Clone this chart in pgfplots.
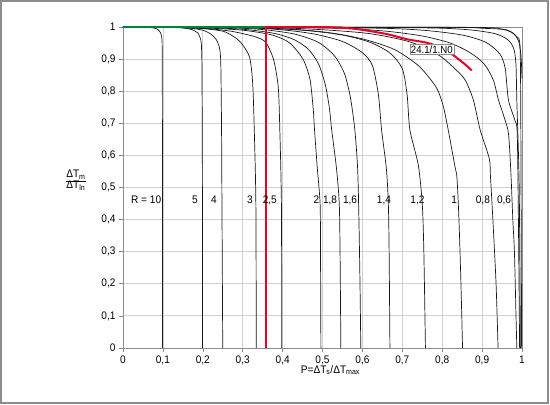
\documentclass[border=0pt]{standalone}
\usepackage{fontspec}
\setmainfont{Liberation Sans}[FakeStretch=0.92]
\usepackage{pgfplots}
\pgfplotsset{compat=1.18}
\definecolor{gridgray}{RGB}{208,208,208}
\definecolor{axisgray}{RGB}{140,140,140}
\definecolor{opred}{RGB}{230,0,40}
\definecolor{opgreen}{RGB}{0,130,60}
\tikzset{fcurve/.style={black!90, line width=0.7bp, smooth, tension=0.45, mark=none}}

\begin{document}
\begin{tikzpicture}
\useasboundingbox (-123bp,-57bp) rectangle (427bp,348bp);
\draw[axisgray, line width=1.5bp] (-122bp,-55bp) rectangle (425bp,347bp);
\begin{axis}[
  at={(0bp,0bp)}, anchor=south west,
  scale only axis, width=399bp, height=321bp,
  xmin=0, xmax=1, ymin=0, ymax=1,
  xtick={0,0.1,0.2,0.3,0.4,0.5,0.6,0.7,0.8,0.9,1},
  ytick={0,0.1,0.2,0.3,0.4,0.5,0.6,0.7,0.8,0.9,1},
  grid=major, grid style={gridgray, line width=0.8bp},
  axis line style={axisgray, line width=0.8bp},
  tick align=outside, major tick length=4bp,
  tick style={axisgray, line width=0.6bp},
  xtick pos=lower, ytick pos=left,
  ticklabel style={font=\fontsize{11}{13}\selectfont},
  /pgf/number format/use comma,
  /pgf/number format/assume math mode=true,
  clip=false,
]
% correction factor curves, one per R
\addplot[fcurve] coordinates {(0,1) (0.05,0.9995) (0.07,0.998) (0.083,0.995) (0.091,0.988) (0.096,0.975) (0.098,0.95) (0.0985,0.85) (0.099,0.5) (0.099,0)};
\addplot[fcurve] coordinates {(0,1) (0.1,0.999) (0.15,0.997) (0.172,0.992) (0.187,0.982) (0.195,0.96) (0.197,0.93) (0.198,0.85) (0.199,0.5) (0.199,0)};
\addplot[fcurve] coordinates {(0,1) (0.12,0.999) (0.17,0.996) (0.2,0.99) (0.22,0.978) (0.233,0.962) (0.241,0.939) (0.245,0.89) (0.247,0.68) (0.248,0.45) (0.25,0)};
\addplot[fcurve] coordinates {(0,1) (0.15,0.998) (0.2,0.995) (0.25,0.987) (0.275,0.972) (0.295,0.952) (0.317,0.907) (0.325,0.825) (0.329,0.68) (0.333,0.45) (0.334,0)};
\addplot[fcurve] coordinates {(0,1) (0.15,0.998) (0.22,0.994) (0.27,0.987) (0.305,0.978) (0.335,0.968) (0.358,0.952) (0.377,0.9) (0.389,0.814) (0.393,0.68) (0.397,0.45) (0.398,0)};
\addplot[fcurve] coordinates {(0,1) (0.2,0.997) (0.3,0.99) (0.368,0.977) (0.4,0.963) (0.419,0.949) (0.44,0.92) (0.455,0.89) (0.469,0.835) (0.477,0.741) (0.48,0.68) (0.487,0.56) (0.494,0.45) (0.495,0.3) (0.496,0)};
\addplot[fcurve] coordinates {(0,1) (0.2,0.998) (0.3,0.993) (0.38,0.98) (0.43,0.96) (0.465,0.93) (0.49,0.885) (0.507,0.82) (0.517,0.75) (0.523,0.68) (0.535,0.56) (0.542,0.45) (0.544,0.3) (0.546,0)};
\addplot[fcurve] coordinates {(0,1) (0.25,0.998) (0.35,0.992) (0.43,0.978) (0.49,0.952) (0.53,0.91) (0.555,0.855) (0.57,0.78) (0.581,0.68) (0.588,0.56) (0.591,0.42) (0.594,0.2) (0.596,0)};
\addplot[fcurve] coordinates {(0,1) (0.3,0.998) (0.4,0.991) (0.48,0.978) (0.55,0.955) (0.6,0.92) (0.625,0.88) (0.64,0.79) (0.648,0.68) (0.66,0.56) (0.665,0.45) (0.667,0.3) (0.669,0)};
\addplot[fcurve] coordinates {(0,1) (0.3,0.998) (0.45,0.99) (0.55,0.975) (0.62,0.952) (0.67,0.918) (0.7,0.87) (0.712,0.79) (0.719,0.68) (0.74,0.57) (0.75,0.45) (0.754,0.3) (0.758,0)};
\addplot[fcurve] coordinates {(0,1) (0.35,0.997) (0.5,0.985) (0.6,0.963) (0.68,0.93) (0.74,0.88) (0.775,0.83) (0.79,0.8) (0.803,0.752) (0.815,0.68) (0.832,0.565) (0.837,0.53) (0.842,0.4) (0.847,0.2) (0.851,0)};
\addplot[fcurve] coordinates {(0,1) (0.4,0.997) (0.6,0.982) (0.7,0.96) (0.76,0.935) (0.8,0.905) (0.83,0.872) (0.857,0.836) (0.878,0.773) (0.895,0.68) (0.918,0.59) (0.921,0.534) (0.927,0.4) (0.935,0.2) (0.94,0)};
\addplot[fcurve] coordinates {(0,1) (0.5,0.997) (0.65,0.988) (0.75,0.972) (0.82,0.95) (0.87,0.92) (0.905,0.885) (0.928,0.835) (0.941,0.773) (0.955,0.72) (0.966,0.669) (0.972,0.55) (0.977,0.4) (0.981,0.3) (0.985,0.1) (0.987,0)};
\addplot[fcurve] coordinates {(0,1) (0.6,0.997) (0.75,0.99) (0.85,0.975) (0.91,0.952) (0.945,0.915) (0.958,0.87) (0.966,0.773) (0.982,0.71) (0.988,0.669) (0.991,0.4) (0.994,0)};
\addplot[fcurve] coordinates {(0,1) (0.7,0.998) (0.85,0.993) (0.93,0.98) (0.965,0.96) (0.98,0.93) (0.985,0.88) (0.987,0.773) (0.993,0.5) (0.996,0)};
\addplot[fcurve] coordinates {(0,1) (0.8,0.999) (0.9,0.996) (0.961,0.991) (0.987,0.97) (0.995,0.939) (0.997,0.71) (0.999,0)};
\addplot[fcurve] coordinates {(0,1) (0.85,0.999) (0.95,0.993) (0.98,0.978) (0.993,0.95) (0.998,0.9) (1,0.84)};
% operating point path
\addplot[opgreen, line width=2bp, sharp plot, mark=none] coordinates {(0,1) (0.358,1)};
\addplot[opred, line width=2bp, sharp plot, mark=none] coordinates {(0.358,0) (0.358,1) (0.5,1)};
\addplot[opred, line width=2bp, smooth, tension=0.45, mark=none] coordinates {(0.5,1) (0.577,0.995) (0.661,0.978) (0.711,0.962) (0.761,0.951) (0.8,0.934) (0.828,0.912) (0.853,0.888) (0.874,0.865)};
% curve labels
\begin{scope}[every node/.style={font=\fontsize{11}{13}\selectfont, inner sep=0pt}]
\node at (axis cs:0.058,0.461) {R = 10};
\node at (axis cs:0.180,0.461) {5};
\node at (axis cs:0.228,0.461) {4};
\node at (axis cs:0.318,0.461) {3};
\node at (axis cs:0.368,0.461) {2,5};
\node at (axis cs:0.485,0.461) {2};
\node at (axis cs:0.519,0.461) {1,8};
\node at (axis cs:0.569,0.461) {1,6};
\node at (axis cs:0.654,0.461) {1,4};
\node at (axis cs:0.738,0.461) {1,2};
\node at (axis cs:0.830,0.461) {1};
\node at (axis cs:0.902,0.461) {0,8};
\node at (axis cs:0.955,0.461) {0,6};
\end{scope}
\node[draw=axisgray, fill=white, inner sep=1.2pt, font=\fontsize{10.5}{12}\selectfont] at (axis cs:0.774,0.93) {24.1/1.N0};
% axis titles
\node[font=\fontsize{11}{13}\selectfont] at (axis cs:-0.118,0.52)
  {\renewcommand\arraystretch{0.85}\begin{tabular}{@{}c@{}}ΔT\textsubscript{m}\\\hline ΔT\textsubscript{ln}\end{tabular}};
\node[font=\fontsize{11}{13}\selectfont] at (axis cs:0.52,-0.069) {P=ΔT\textsubscript{s}/ΔT\textsubscript{max}};
\end{axis}
\end{tikzpicture}
\end{document}
